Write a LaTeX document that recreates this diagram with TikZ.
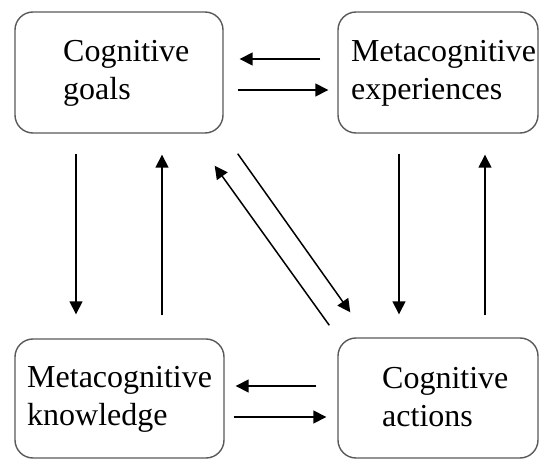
\documentclass[tikz,border=0pt]{standalone}
\usepackage{fontspec}
\setmainfont{Liberation Serif}
\usetikzlibrary{arrows.meta,calc}
\tikzset{
  box/.style={draw=black!65, line width=1.4pt, rounded corners=18pt, inner sep=0pt},
  txt/.style={inner sep=0pt, anchor=base west, font=\fontsize{32}{38}\selectfont},
  arr/.style={draw=black, line width=1.5pt, -{Triangle[length=13pt,width=13pt]}}
}
\begin{document}
\begin{tikzpicture}[x=1pt,y=-1pt]
\useasboundingbox (0,0) rectangle (539,460);
% boxes
\node[box, minimum width=208pt, minimum height=121pt] (cg) at (119,72.5) {};
\node[box, minimum width=200pt, minimum height=121pt] (me) at (438,72.5) {};
\node[box, minimum width=209pt, minimum height=119pt] (mk) at (119.5,398.5) {};
\node[box, minimum width=200pt, minimum height=120pt] (ca) at (438,398) {};
% texts
\node[txt] (cgt) at (63,62) {\begin{tabular}[t]{@{}l@{}}Cognitive\\goals\end{tabular}};
\node[txt] (met) at (351,62) {\begin{tabular}[t]{@{}l@{}}Metacognitive\\experiences\end{tabular}};
\node[txt] (mkt) at (27,387) {\begin{tabular}[t]{@{}l@{}}Metacognitive\\knowledge\end{tabular}};
\node[txt] (cat) at (382,388) {\begin{tabular}[t]{@{}l@{}}Cognitive\\actions\end{tabular}};
% horizontal arrows top
\draw[arr, shorten <=17pt, shorten >=16pt] (me.west |- 0,59) -- (cg.east |- 0,59);
\draw[arr, shorten <=14pt, shorten >=9pt] (cg.east |- 0,90) -- (me.west |- 0,90);
% horizontal arrows bottom
\draw[arr, shorten <=21pt, shorten >=11pt] (ca.west |- 0,386) -- (mk.east |- 0,386);
\draw[arr, shorten <=9pt, shorten >=11pt] (mk.east |- 0,417) -- (ca.west |- 0,417);
% vertical arrows left
\draw[arr, shorten <=20pt, shorten >=24pt] (cg.south -| 76,0) -- (mk.north -| 76,0);
\draw[arr, shorten <=23pt, shorten >=21pt] (mk.north -| 162,0) -- (cg.south -| 162,0);
% vertical arrows right
\draw[arr, shorten <=20pt, shorten >=23pt] (me.south -| 399,0) -- (ca.north -| 399,0);
\draw[arr, shorten <=22pt, shorten >=21pt] (ca.north -| 485,0) -- (me.south -| 485,0);
% diagonals
\draw[arr] ($(cg.south east)+(14,20)$) -- ($(ca.north west)+(13,-25)$);
\draw[arr] ($(ca.north west)+(-8,-12)$) -- ($(cg.south east)+(-9,32)$);
\end{tikzpicture}
\end{document}
